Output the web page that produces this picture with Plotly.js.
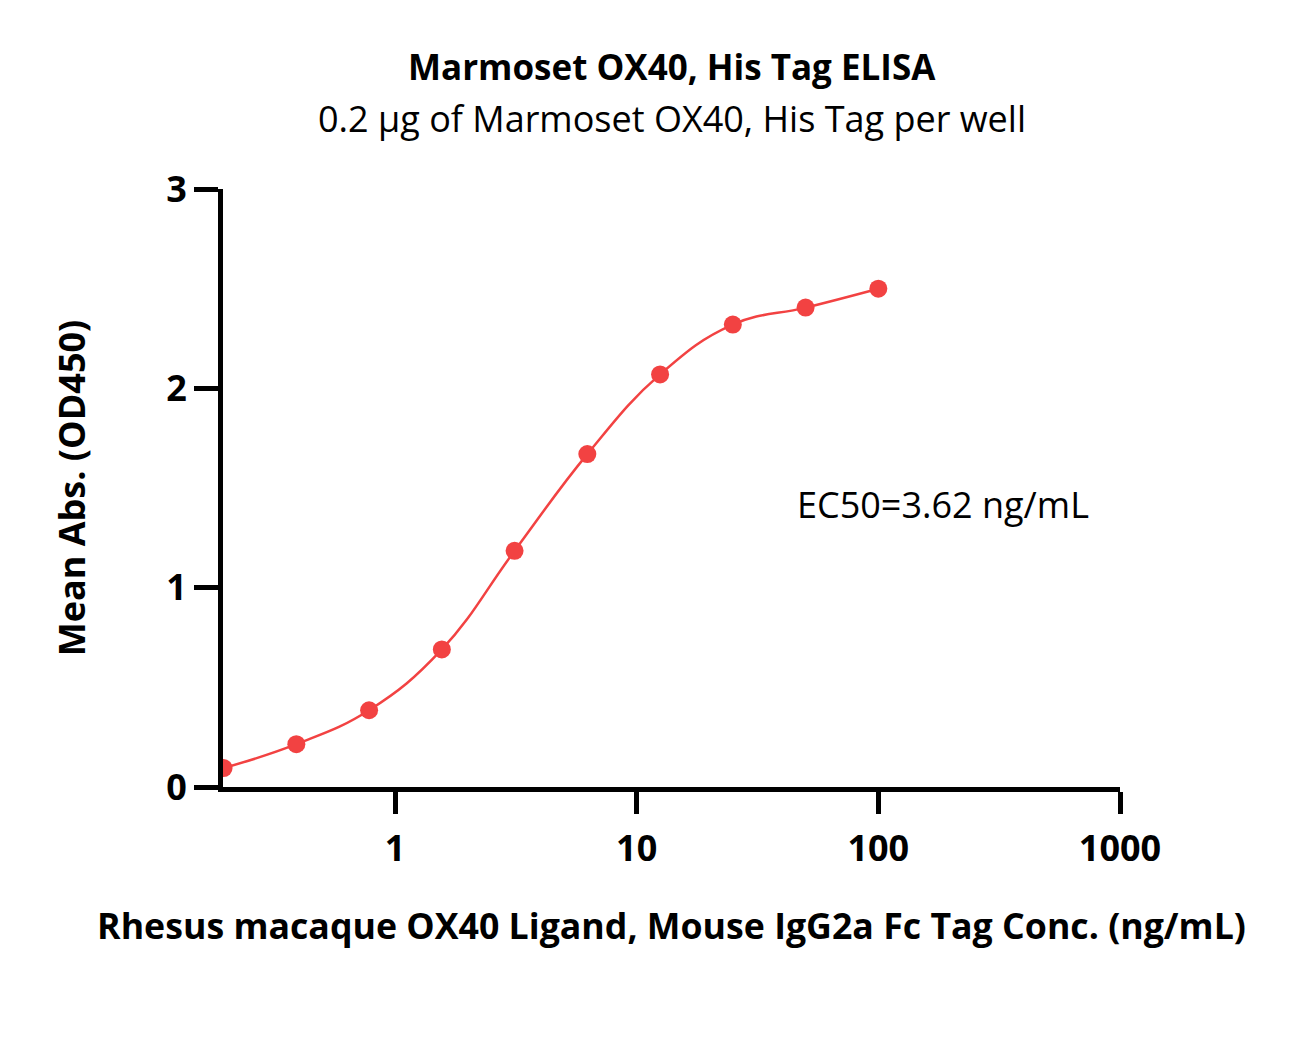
<!DOCTYPE html>
<html>
<head>
<meta charset="utf-8">
<script src="https://cdn.plot.ly/plotly-3.0.1.min.js"></script>
<style>
  html, body { margin: 0; padding: 0; background: #fff; }
  #plot { width: 1295px; height: 1044px; }
</style>
</head>
<body>
<div id="plot"></div>
<script>
// concentrations (ng/mL) and mean OD450
var conc = [0.1953, 0.3906, 0.7813, 1.5625, 3.125, 6.25, 12.5, 25, 50, 100];
var od450 = [0.095, 0.215, 0.385, 0.69, 1.185, 1.67, 2.07, 2.32, 2.405, 2.5];

var xTickVals = [1, 10, 100, 1000];
var xTickText = ["1", "10", "100", "1000"];
var yTickVals = [0, 1, 2, 3];

var red = "#f24242";
var font = "Open Sans, Noto Sans, sans-serif";

var curve = {
  x: conc,
  y: od450,
  type: "scatter",
  mode: "lines",
  line: { color: red, width: 2.5, shape: "spline", smoothing: 1.2 },
  hoverinfo: "skip"
};

var points = {
  x: conc,
  y: od450,
  type: "scatter",
  mode: "markers",
  marker: { color: red, size: 18 }
};

var data = [curve, points];

var layout = {
  width: 1295,
  height: 1044,
  showlegend: false,
  paper_bgcolor: "#fff",
  plot_bgcolor: "#fff",
  margin: { l: 223, r: 175, t: 189, b: 257 },
  font: { family: font, color: "#000" },
  xaxis: {
    type: "log",
    range: [-0.7117, 3],
    tickvals: xTickVals,
    ticktext: xTickText,
    ticks: "outside",
    ticklen: 22,
    tickwidth: 5,
    tickcolor: "#000",
    ticklabelstandoff: 4,
    showline: true,
    linewidth: 5,
    linecolor: "#000",
    showgrid: false,
    zeroline: false,
    tickfont: { size: 36, family: font, weight: "bold" },
    title: {
      text: "<b>Rhesus macaque OX40 Ligand, Mouse IgG2a Fc Tag Conc. (ng/mL)</b>",
      font: { size: 35.7, family: font },
      standoff: 44
    }
  },
  yaxis: {
    range: [0, 3],
    tickvals: yTickVals,
    ticks: "outside",
    ticklen: 24,
    tickwidth: 5,
    tickcolor: "#000",
    showline: true,
    linewidth: 5,
    linecolor: "#000",
    showgrid: false,
    zeroline: false,
    tickfont: { size: 36, family: font, weight: "bold" },
    title: {
      text: "<b>Mean Abs. (OD450)</b>",
      font: { size: 36, family: font },
      standoff: 71
    }
  },
  annotations: [{
    text: "<b>Marmoset OX40, His Tag ELISA</b>",
    xref: "paper", yref: "paper",
    x: 0.5, y: 1.205,
    xanchor: "center", yanchor: "middle",
    showarrow: false,
    font: { size: 35, family: font }
  }, {
    text: "0.2 µg of Marmoset OX40, His Tag per well",
    xref: "paper", yref: "paper",
    x: 0.5, y: 1.118,
    xanchor: "center", yanchor: "middle",
    showarrow: false,
    font: { size: 36, family: font }
  }, {
    text: "EC50=3.62 ng/mL",
    xref: "paper", yref: "paper",
    x: 0.638, y: 0.472,
    xanchor: "left", yanchor: "middle",
    showarrow: false,
    font: { size: 36, family: font }
  }]
};

Plotly.newPlot("plot", data, layout, { displayModeBar: false });
</script>
</body>
</html>
